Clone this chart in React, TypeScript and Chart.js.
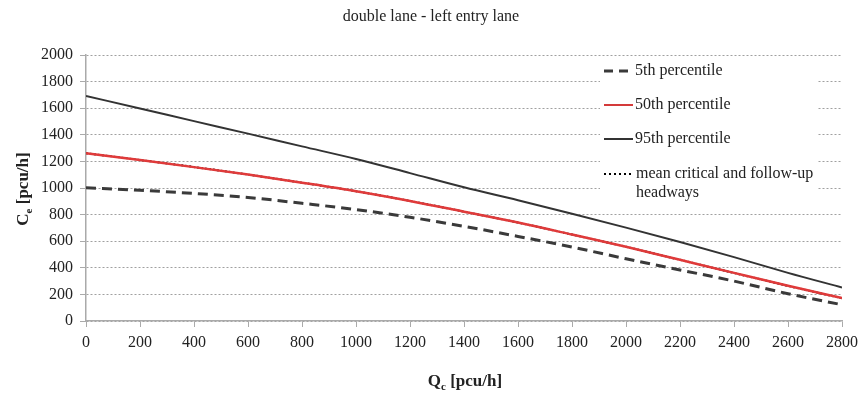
import React, { useEffect, useRef } from "react";
import { Chart, registerables } from "chart.js";
Chart.register(...registerables);

const chartTitle = "double lane - left entry lane";
const xTitleMain = "Q";
const xTitleSub = "c";
const xTitleRest = " [pcu/h]";
const yTitleMain = "C";
const yTitleSub = "e";
const yTitleRest = " [pcu/h]";

const qc = [0, 200, 400, 600, 800, 1000, 1200, 1400, 1600, 1800, 2000, 2200, 2400, 2600, 2800];
const p5 = [1002, 983, 959, 929, 885, 838, 780, 712, 636, 556, 468, 384, 300, 205, 122];
const p50 = [1261, 1210, 1157, 1101, 1040, 976, 903, 822, 740, 650, 558, 460, 362, 265, 172];
const p95 = [1692, 1598, 1503, 1409, 1313, 1218, 1112, 1005, 908, 806, 702, 594, 480, 362, 252];
const meanHeadways = [1262, 1211, 1158, 1101, 1040, 976, 903, 822, 740, 650, 558, 460, 361, 264, 171];

const legendLabels = ["5th percentile", "50th percentile", "95th percentile", "mean critical and follow-up", "headways"];

const FONT = "'Liberation Serif', 'Times New Roman', serif";

const toPts = (vals: number[]) => vals.map((v, i) => ({ x: qc[i], y: v }));

export default function App() {
  const ref = useRef<HTMLCanvasElement | null>(null);
  useEffect(() => {
    const canvas = ref.current!;
    const textPlugin = {
      id: "customText",
      beforeDatasetsDraw(chart: any) {
        const ctx = chart.ctx;
        ctx.save();
        ctx.fillStyle = "#ffffff";
        ctx.fillRect(600, 58, 217, 152);
        const items = [
          { y: 71, color: "#3a3a3a", dash: [9, 6], width: 3 },
          { y: 105, color: "#d43a3a", dash: [], width: 2 },
          { y: 139, color: "#333333", dash: [], width: 2 },
          { y: 174, color: "#000000", dash: [2, 3], width: 2 },
        ];
        items.forEach((it) => {
          ctx.beginPath();
          ctx.strokeStyle = it.color;
          ctx.lineWidth = it.width;
          ctx.setLineDash(it.dash);
          ctx.moveTo(604, it.y);
          ctx.lineTo(633, it.y);
          ctx.stroke();
        });
        ctx.setLineDash([]);
        ctx.fillStyle = "#222";
        ctx.font = `16px ${FONT}`;
        ctx.textBaseline = "middle";
        ctx.textAlign = "left";
        ctx.fillText(legendLabels[0], 635, 71);
        ctx.fillText(legendLabels[1], 635, 105);
        ctx.fillText(legendLabels[2], 635, 139);
        ctx.fillText(legendLabels[3], 636, 174);
        ctx.fillText(legendLabels[4], 636, 193);
        ctx.restore();
      },
      afterDraw(chart: any) {
        const ctx = chart.ctx;
        ctx.save();
        ctx.fillStyle = "#222";
        ctx.textBaseline = "alphabetic";
        ctx.font = `16px ${FONT}`;
        ctx.textAlign = "center";
        ctx.fillText(chartTitle, 431, 21);
        const drawSub = (main: string, sub: string, rest: string) => {
          ctx.font = `bold 17px ${FONT}`;
          const w1 = ctx.measureText(main).width;
          const w3 = ctx.measureText(rest).width;
          ctx.font = `bold 11px ${FONT}`;
          const w2 = ctx.measureText(sub).width;
          const total = w1 + w2 + w3;
          let x = -total / 2;
          ctx.textAlign = "left";
          ctx.font = `bold 17px ${FONT}`;
          ctx.fillText(main, x, 0);
          x += w1;
          ctx.font = `bold 11px ${FONT}`;
          ctx.fillText(sub, x, 4);
          x += w2;
          ctx.font = `bold 17px ${FONT}`;
          ctx.fillText(rest, x, 0);
        };
        ctx.save();
        ctx.translate(465, 386);
        drawSub(xTitleMain, xTitleSub, xTitleRest);
        ctx.restore();
        ctx.save();
        ctx.translate(28, 189);
        ctx.rotate(-Math.PI / 2);
        drawSub(yTitleMain, yTitleSub, yTitleRest);
        ctx.restore();
        ctx.restore();
      },
    };
    const common = { pointRadius: 0, cubicInterpolationMode: "monotone", fill: false };
    const chart = new Chart(canvas, {
      type: "line",
      data: {
        datasets: [
          { label: "5th percentile", data: toPts(p5), borderColor: "#3a3a3a", borderWidth: 3, borderDash: [10, 6], ...common },
          { label: "50th percentile", data: toPts(p50), borderColor: "#e03a3a", borderWidth: 2.5, ...common },
          { label: "95th percentile", data: toPts(p95), borderColor: "#333333", borderWidth: 2, ...common },
          { label: "mean critical and follow-up headways", data: toPts(meanHeadways), borderColor: "#000000", borderWidth: 2, borderDash: [2, 2], ...common },
        ],
      },
      options: {
        responsive: false,
        animation: false,
        layout: { padding: { top: 55, right: 19, left: 0, bottom: 0 } },
        plugins: { legend: { display: false }, title: { display: false }, tooltip: { enabled: false } },
        scales: {
          x: {
            type: "linear",
            min: 0,
            max: 2800,
            ticks: { stepSize: 200, color: "#222", font: { family: FONT, size: 16 }, padding: 6, maxRotation: 0, autoSkip: false, callback: (v: any) => String(v) },
            grid: { drawOnChartArea: false, drawTicks: true, tickLength: 6, color: "#aaaaaa" },
            border: { display: true, color: "#aaaaaa", width: 1.5 },
            afterFit: (s: any) => { s.height = 73; s.paddingLeft = 0; s.paddingRight = 0; },
          },
          y: {
            min: 0,
            max: 2000,
            ticks: { stepSize: 200, color: "#222", font: { family: FONT, size: 16 }, padding: 7, callback: (v: any) => String(v) },
            grid: { color: "#a0a0a0", tickLength: 6, tickColor: "#aaaaaa", tickBorderDash: [], lineWidth: 1 },
            border: { display: true, color: "#aaaaaa", width: 1.5, dash: [2, 2] },
            afterFit: (s: any) => { s.width = 86; s.paddingTop = 0; s.paddingBottom = 0; },
          },
        },
      },
      plugins: [textPlugin],
    } as any);
    return () => chart.destroy();
  }, []);
  return (
    <div style={{ position: "fixed", left: 0, top: 0, width: 861, height: 394, background: "#fff" }}>
      <canvas ref={ref} width={861} height={394} style={{ width: 861, height: 394 }} />
    </div>
  );
}
